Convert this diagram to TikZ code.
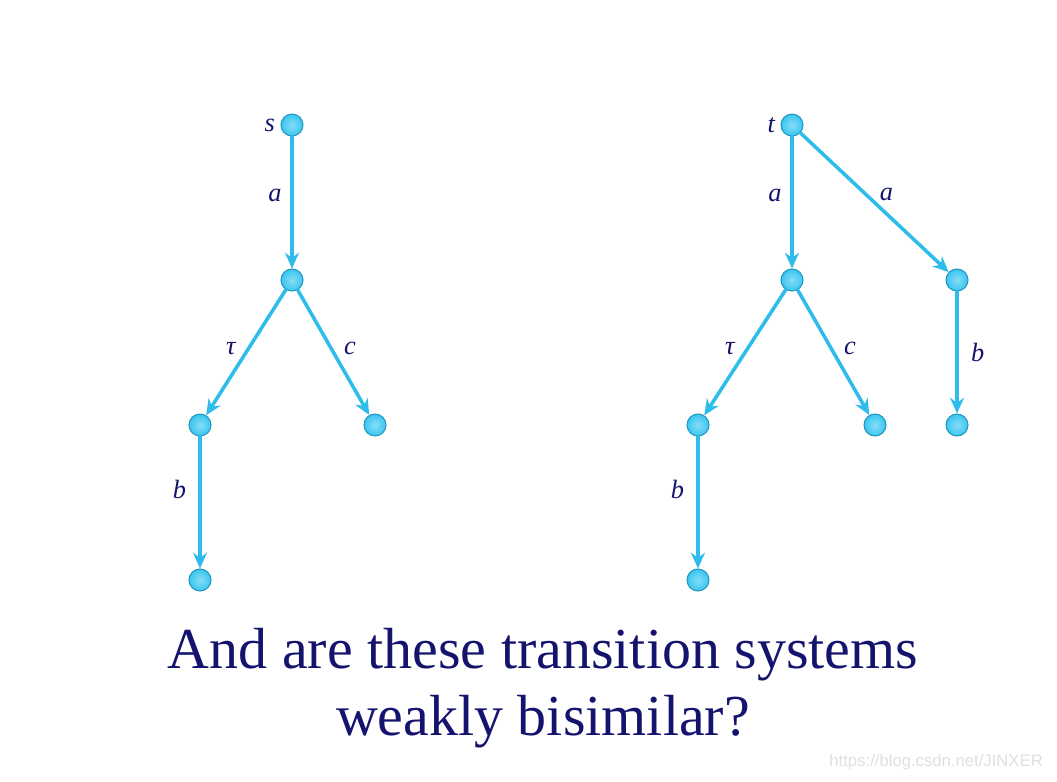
\documentclass[tikz,border=0pt]{standalone}
\usepackage{fontspec}
\setmainfont{Liberation Serif}
\newfontfamily\wmfont{Liberation Sans}
\usetikzlibrary{arrows.meta,positioning}

\definecolor{ballblue}{HTML}{38C6F0}
\definecolor{edgeblue}{HTML}{2EBCEB}
\definecolor{inkblue}{HTML}{14146E}

\tikzset{
  state/.style={circle,draw=edgeblue!80!black,line width=0.6pt,inner sep=0pt,
    minimum size=0.44cm,inner color=ballblue!60,outer color=ballblue},
  trans/.style={->,draw=edgeblue,line width=2pt},
  lab/.style={font=\fontsize{15}{15}\selectfont\itshape,text=inkblue,inner sep=2pt}
}

\begin{document}
\begin{tikzpicture}[x=0.02cm,y=-0.02cm,line cap=round,line join=round,>={Stealth[length=9pt,width=8pt,inset=3pt]}]
				\useasboundingbox (0,0) rectangle (1057,781);
				\fill[white] (0,0) rectangle (1057,781);
				
				% left system
				\node[state] (s) at (292,125) {};
				\node[lab,left=1pt of s] (sl) {s};
				\node[state] (s1) at (292,280) {};
				\node[state] (s2) at (200,425) {};
				\node[state] (s3) at (375,425) {};
				\node[state] (s4) at (200,580) {};
				
				\draw[trans] (s) -- node[lab,pos=0.45,left=3pt] {a} (s1);
				\draw[trans] (s1) -- node[lab,pos=0.5,above left=-4pt and 3pt] {τ} (s2);
				\draw[trans] (s1) -- node[lab,pos=0.5,above right=-4pt and 3pt] {c} (s3);
				\draw[trans] (s2) -- node[lab,pos=0.4,left=5pt] {b} (s4);
				
				% right system
				\node[state] (t) at (792,125) {};
				\node[lab,left=1pt of t] (tl) {t};
				\node[state] (t1) at (792,280) {};
				\node[state] (t2) at (957,280) {};
				\node[state] (t3) at (698,425) {};
				\node[state] (t4) at (875,425) {};
				\node[state] (t5) at (957,425) {};
				\node[state] (t6) at (698,580) {};
				
				\draw[trans] (t) -- node[lab,pos=0.45,left=3pt] {a} (t1);
				\draw[trans] (t) -- node[lab,pos=0.5,above right=-2pt and 0pt] {a} (t2);
				\draw[trans] (t1) -- node[lab,pos=0.5,above left=-4pt and 3pt] {τ} (t3);
				\draw[trans] (t1) -- node[lab,pos=0.5,above right=-4pt and 3pt] {c} (t4);
				\draw[trans] (t2) -- node[lab,pos=0.5,right=5pt] {b} (t5);
				\draw[trans] (t3) -- node[lab,pos=0.4,left=5pt] {b} (t6);
				
				% question
				\node[text=inkblue,font=\fontsize{33}{38}\selectfont,align=center] (q) at (543,688)
				  {And are these transition systems\\weakly bisimilar?};
				\node[text=black!12,font=\wmfont\fontsize{9.5}{9.5}\selectfont,anchor=east] (wm) at (1049,762) {https://blog.csdn.net/JINXER};
			\end{tikzpicture}
\end{document}
